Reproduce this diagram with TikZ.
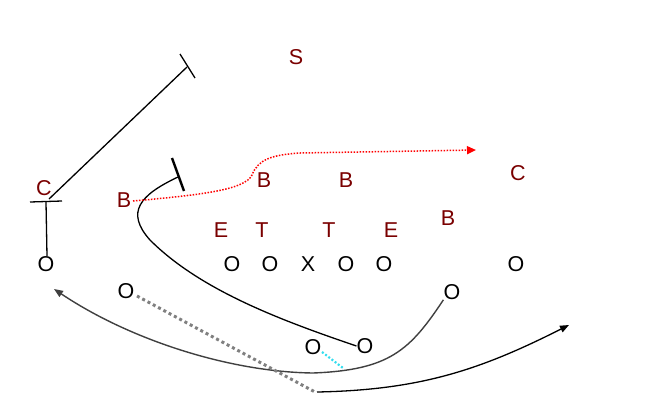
\documentclass[tikz,border=0pt]{standalone}
\usepackage{fontspec}
\setmainfont{Liberation Sans}
\usetikzlibrary{arrows.meta}
\definecolor{maroon}{HTML}{7A0000}
\definecolor{routegray}{HTML}{404040}
\definecolor{dashgray}{HTML}{808080}
\definecolor{cyanline}{HTML}{33DDEE}
\begin{document}
\begin{tikzpicture}[x=1pt,y=-1pt,
  def/.style={text=maroon,inner sep=0pt,font=\fontsize{21.5}{21.5}\selectfont},
  off/.style={text=black,inner sep=0pt,font=\fontsize{21.5}{21.5}\selectfont},
  blk/.style={draw=black,line width=1.3pt},
  bar/.style={draw=black,line width=1.5pt},
  gry/.style={draw=routegray,line width=1.4pt},
  gdash/.style={draw=dashgray,line width=3pt,dash pattern=on 3pt off 3pt},
  rdot/.style={draw=red,line width=1.5pt,dash pattern=on 1.5pt off 1.5pt},
  cdot/.style={draw=cyanline,line width=2.2pt,dash pattern=on 2pt off 2pt}]
\useasboundingbox (0,0) rectangle (656,413);
% defense
\node[def] (s) at (296,57) {S};
\node[def] (cl) at (44,188) {C};
\node[def] (bl) at (124,200) {B};
\node[def] (b1) at (264,180) {B};
\node[def] (b2) at (346,180) {B};
\node[def] (cr) at (518,173) {C};
\node[def] (e1) at (221,230) {E};
\node[def] (t1) at (262,230) {T};
\node[def] (t2) at (329,230) {T};
\node[def] (e2) at (391,230) {E};
\node[def] (br) at (448,218) {B};
% offense
\node[off] (o1) at (46,264) {O};
\node[off] (o2) at (232,264) {O};
\node[off] (o3) at (270,264) {O};
\node[off] (x) at (308,264) {X};
\node[off] (o4) at (346,264) {O};
\node[off] (o5) at (384,264) {O};
\node[off] (o6) at (516,264) {O};
\node[off] (o7) at (126,291) {O};
\node[off] (o8) at (452,292) {O};
\node[off] (o9) at (313,347) {O};
\node[off] (o10) at (365,346) {O};
% coordinates
\coordinate (cb) at (46,202);
\coordinate (cbl) at (30,202);
\coordinate (cbr) at (62,201);
\coordinate (cs) at (49,199);
\coordinate (ce) at (187,67);
\coordinate (ceb1) at (180,54);
\coordinate (ceb2) at (195,78);
\coordinate (be) at (178,177);
\coordinate (bb1) at (172,158);
\coordinate (bb2) at (184,191);
\coordinate (rs) at (133,201);
\coordinate (re) at (476,150);
\coordinate (ge) at (54,289);
\coordinate (ds) at (137,296);
\coordinate (de) at (315,392);
\coordinate (cys) at (322,352);
\coordinate (cye) at (343,368);
\coordinate (as) at (317,392);
\coordinate (ae) at (569,325);
\coordinate (lb) at (47,256);
% left receiver block
\draw[blk] (lb) -- (cb);
\draw[blk] (cbl) -- (cbr);
\draw[blk] (cs) -- (ce);
\draw[blk] (ceb1) -- (ceb2);
% back route with block
\draw[blk] (o10.west) .. controls (280,320) and (200,290) .. (150,240)
  .. controls (125,212) and (140,195) .. (be);
\draw[bar,line width=2.4pt] (bb1) -- (bb2);
% red dotted route
\draw[rdot,-{Triangle[length=9pt,width=8pt]}] (rs) .. controls (200,195) and (245,190) .. (252,175)
  .. controls (258,160) and (270,155) .. (300,153) -- (re);
% gray route
\draw[gry,-{Triangle[length=9pt,width=7pt]}] (o8.south west) .. controls (410,350) and (390,370) .. (313,373)
  .. controls (230,372) and (130,340) .. (ge);
% gray dashed
\draw[gdash] (ds) -- (de);
% cyan dotted
\draw[cdot] (cys) -- (cye);
% black arrow
\draw[blk,-{Triangle[length=9pt,width=7pt]}] (as) .. controls (420,390) and (480,370) .. (ae);
\end{tikzpicture}
\end{document}
